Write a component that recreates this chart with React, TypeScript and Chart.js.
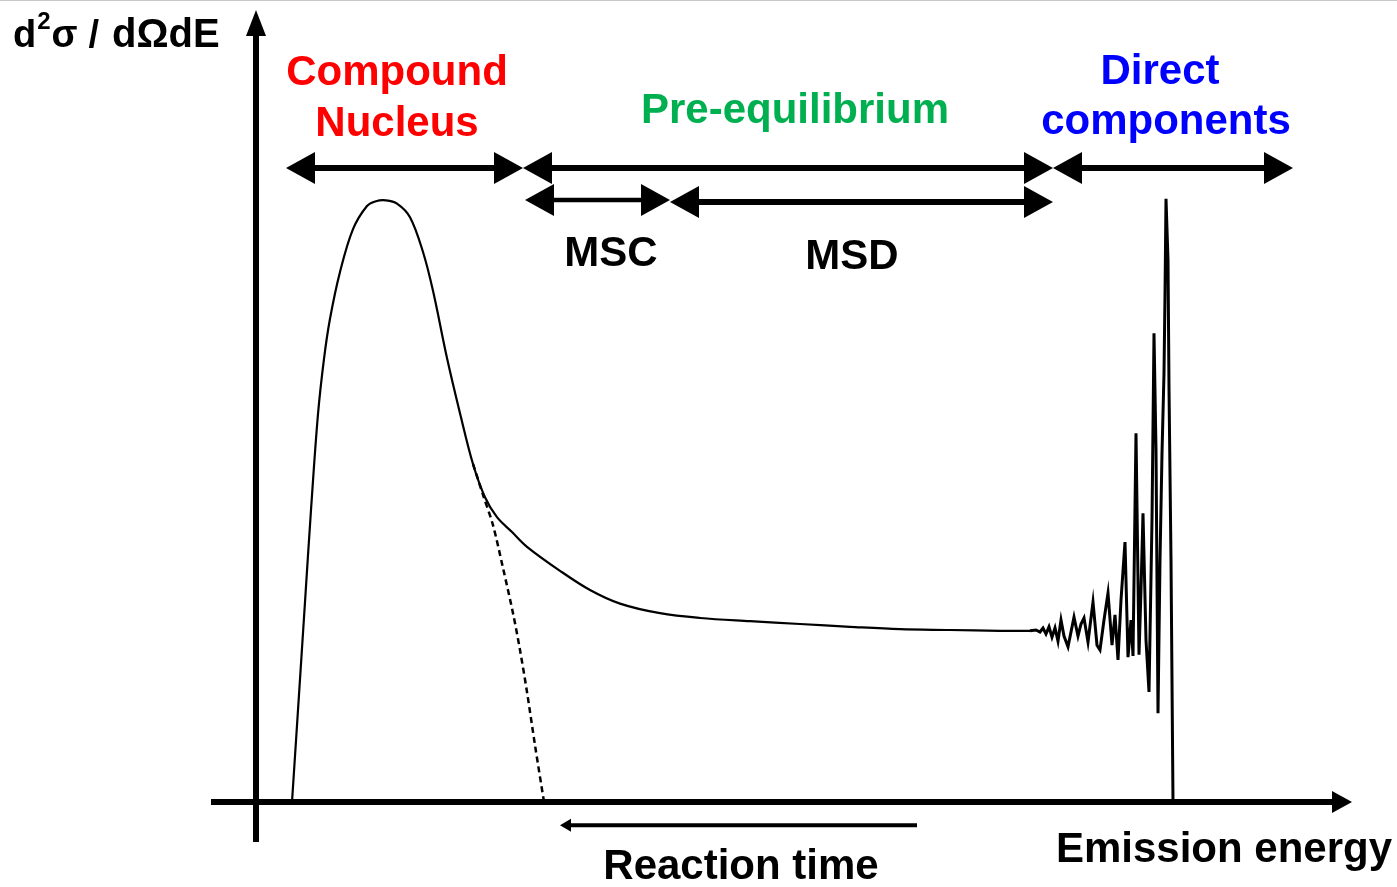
import { useEffect, useRef } from "react";
import { Chart, registerables } from "chart.js";

Chart.register(...registerables);

// Emission energy (arbitrary units) vs. double-differential cross section (arbitrary units)
// Smooth evaporation peak + pre-equilibrium plateau
const energy = [
  3.6, 4.2, 4.9, 5.5, 6.2, 6.8, 7.4, 8.4, 9.7, 11.1, 12.0, 13.0, 14.1, 15.4, 16.7, 17.7, 19.1,
  20.4, 21.7, 22.9, 24.1, 25.6, 27.1, 30.4, 33.4, 36.4, 40.4, 44.4, 49.4, 54.4, 59.4, 64.4,
  69.4, 74.4, 77.4,
];
const crossSection = [
  0, 11.5, 25.0, 36.5, 48.5, 55.4, 60.4, 66.25, 71.6, 74.5, 75.1, 75.2, 74.8, 73.1, 68.75,
  63.9, 55.5, 48.6, 42.25, 38.1, 35.6, 33.75, 31.9, 28.9, 26.5, 24.8, 23.6, 23.0, 22.6,
  22.25, 21.9, 21.6, 21.5, 21.4, 21.4,
];

// Compound-nucleus tail continued beneath the pre-equilibrium emission
const evapEnergy = [21.7, 22.7, 23.7, 24.7, 25.7, 26.4, 27.1, 27.9, 28.8];
const evapCrossSection = [42.25, 38.4, 34.6, 29.25, 23.6, 19.0, 13.75, 7.1, 0];

// Discrete levels excited by direct reactions near the end point
const directEnergy = [
  77.4, 78.0, 78.4, 78.7, 79.0, 79.3, 79.6, 79.9, 80.2, 80.5, 80.8, 81.2, 81.8, 82.2, 82.5,
  82.8, 83.2, 83.7, 84.1, 84.4, 84.8, 85.2, 85.6, 85.9, 86.2, 86.5, 86.9, 87.2, 87.5, 87.7,
  88.0, 88.3, 88.5, 88.7, 89.0, 89.3, 89.6, 89.8, 90.0, 90.2, 90.4, 90.6, 90.8, 90.9, 91.0,
  91.2, 91.3, 91.5, 91.7,
];
const directCrossSection = [
  21.4, 21.5, 21.25, 21.75, 21.0, 21.9, 20.6, 21.75, 20.1, 22.75, 20.75, 19.4, 23.1, 20.75,
  22.25, 23.0, 20.0, 25.0, 19.6, 19.0, 22.75, 26.1, 19.6, 23.4, 17.75, 25.25, 32.5, 18.1,
  22.75, 18.25, 46.1, 18.4, 26.5, 36.1, 20.25, 13.75, 35.25, 58.6, 44.0, 11.1, 30.25, 43.6,
  53.6, 63.4, 75.4, 67.75, 51.75, 30.25, 0,
];

// Reaction-mechanism ranges along the energy axis
const regionBounds = [
  [3.0, 26.7],
  [26.7, 79.7],
  [79.7, 103.7],
];
const subRegionBounds = [
  [26.9, 41.4],
  [41.4, 79.7],
];

type Label = { text: string; x: number; y: number; color: string };

const labels: Label[] = [
  { text: "Compound", x: 14.1, y: 89.6, color: "#ff0000" },
  { text: "Nucleus", x: 14.1, y: 83.3, color: "#ff0000" },
  { text: "Pre-equilibrium", x: 53.9, y: 84.9, color: "#00b050" },
  { text: "Direct", x: 90.4, y: 89.7, color: "#0000ff" },
  { text: "components", x: 91.0, y: 83.5, color: "#0000ff" },
  { text: "MSC", x: 35.5, y: 67.0, color: "#000000" },
  { text: "MSD", x: 59.6, y: 66.6, color: "#000000" },
  { text: "Reaction time", x: 48.5, y: -9.6, color: "#000000" },
  { text: "Emission energy", x: 96.8, y: -7.5, color: "#000000" },
];

const FONT = "'Liberation Sans', Arial, sans-serif";

function arrowHead(
  ctx: CanvasRenderingContext2D,
  tx: number,
  ty: number,
  dx: number,
  dy: number,
  len: number,
  half: number
) {
  // (dx, dy) is the unit direction the head points to
  const bx = tx - dx * len;
  const by = ty - dy * len;
  ctx.beginPath();
  ctx.moveTo(tx, ty);
  ctx.lineTo(bx - dy * half, by + dx * half);
  ctx.lineTo(bx + dy * half, by - dx * half);
  ctx.closePath();
  ctx.fill();
}

function doubleArrow(
  ctx: CanvasRenderingContext2D,
  x1: number,
  x2: number,
  y: number,
  lw: number,
  len: number,
  half: number
) {
  ctx.lineWidth = lw;
  ctx.beginPath();
  ctx.moveTo(x1 + len - 1, y);
  ctx.lineTo(x2 - len + 1, y);
  ctx.stroke();
  arrowHead(ctx, x1, y, -1, 0, len, half);
  arrowHead(ctx, x2, y, 1, 0, len, half);
}

const diagramPlugin = {
  id: "diagram",
  afterDatasetsDraw(chart: Chart) {
    const ctx = chart.ctx;
    const xs = chart.scales.x;
    const ys = chart.scales.y;
    const px = (v: number) => xs.getPixelForValue(v);
    const py = (v: number) => ys.getPixelForValue(v);

    ctx.save();
    ctx.fillStyle = "#000";
    ctx.strokeStyle = "#000";
    ctx.lineCap = "butt";

    // Axes with arrow heads
    ctx.lineWidth = 6;
    ctx.beginPath();
    ctx.moveTo(px(0), py(-5));
    ctx.lineTo(px(0), py(99) + 22);
    ctx.stroke();
    arrowHead(ctx, px(0), py(99), 0, -1, 26, 10);

    ctx.beginPath();
    ctx.moveTo(px(-4.5), py(0));
    ctx.lineTo(px(109.6) - 18, py(0));
    ctx.stroke();
    arrowHead(ctx, px(109.6), py(0), 1, 0, 20, 11);

    // Mechanism ranges
    regionBounds.forEach(([a, b]) => doubleArrow(ctx, px(a), px(b), py(79.25), 6, 29, 16));
    doubleArrow(ctx, px(subRegionBounds[0][0]), px(subRegionBounds[0][1]), py(75.25), 4.5, 29, 16);
    doubleArrow(ctx, px(subRegionBounds[1][0]), px(subRegionBounds[1][1]), py(75.0), 6, 29, 16);

    // Reaction time runs opposite to emission energy
    ctx.lineWidth = 4;
    ctx.beginPath();
    ctx.moveTo(px(30.4) + 8, py(-2.9));
    ctx.lineTo(px(66.1), py(-2.9));
    ctx.stroke();
    arrowHead(ctx, px(30.4), py(-2.9), -1, 0, 11, 6.5);

    // Text
    ctx.textAlign = "center";
    ctx.textBaseline = "alphabetic";
    ctx.font = `bold 42px ${FONT}`;
    labels.forEach((l) => {
      ctx.fillStyle = l.color;
      ctx.fillText(l.text, px(l.x), py(l.y));
    });

    // Ordinate title: d²σ / dΩdE
    ctx.fillStyle = "#000";
    ctx.textAlign = "left";
    const bx = px(-24.3);
    const by = py(94.4);
    ctx.font = `bold 38px ${FONT}`;
    ctx.fillText("d", bx, by);
    const dw = ctx.measureText("d").width;
    ctx.font = `bold 24px ${FONT}`;
    ctx.fillText("2", bx + dw + 1, by - 18);
    const sw = ctx.measureText("2").width;
    ctx.font = `bold 38px ${FONT}`;
    let cx = bx + dw + sw + 2;
    ctx.fillText("σ", cx, by);
    cx += ctx.measureText("σ").width + 11;
    ctx.fillText("/", cx, by);
    cx += ctx.measureText("/").width + 13;
    ctx.font = `bold 40px ${FONT}`;
    ctx.fillText("dΩdE", cx, by);

    // thin frame line along the top edge
    ctx.fillStyle = "#c8c8c8";
    ctx.fillRect(0, 0, chart.width, 1);
    ctx.restore();
  },
};

export default function App() {
  const ref = useRef<HTMLCanvasElement>(null);

  useEffect(() => {
    if (!ref.current) return;
    const toPts = (xs: number[], ys: number[]) => xs.map((x, i) => ({ x, y: ys[i] }));
    const chart = new Chart(ref.current, {
      type: "line",
      data: {
        datasets: [
          {
            data: toPts(energy, crossSection),
            borderColor: "#000",
            borderWidth: 2.2,
            pointRadius: 0,
            tension: 0.35,
            clip: false,
          },
          {
            data: toPts(evapEnergy, evapCrossSection),
            borderColor: "#000",
            borderWidth: 2.5,
            borderDash: [6, 4],
            pointRadius: 0,
            tension: 0.3,
            clip: false,
          },
          {
            data: toPts(directEnergy, directCrossSection),
            borderColor: "#000",
            borderWidth: 3,
            pointRadius: 0,
            tension: 0,
            clip: false,
          },
        ],
      },
      options: {
        animation: false,
        responsive: false,
        maintainAspectRatio: false,
        layout: { padding: { left: 256, right: 41, top: 2, bottom: 85 } },
        scales: {
          x: { type: "linear", min: 0, max: 110, display: false },
          y: { type: "linear", min: 0, max: 100, display: false },
        },
        plugins: { legend: { display: false }, tooltip: { enabled: false } },
        events: [],
      },
      plugins: [diagramPlugin],
    });
    return () => chart.destroy();
  }, []);

  return (
    <div style={{ position: "absolute", left: 0, top: 0, width: 1397, height: 887, background: "#fff" }}>
      <canvas ref={ref} width={1397} height={887} style={{ display: "block" }} />
    </div>
  );
}
